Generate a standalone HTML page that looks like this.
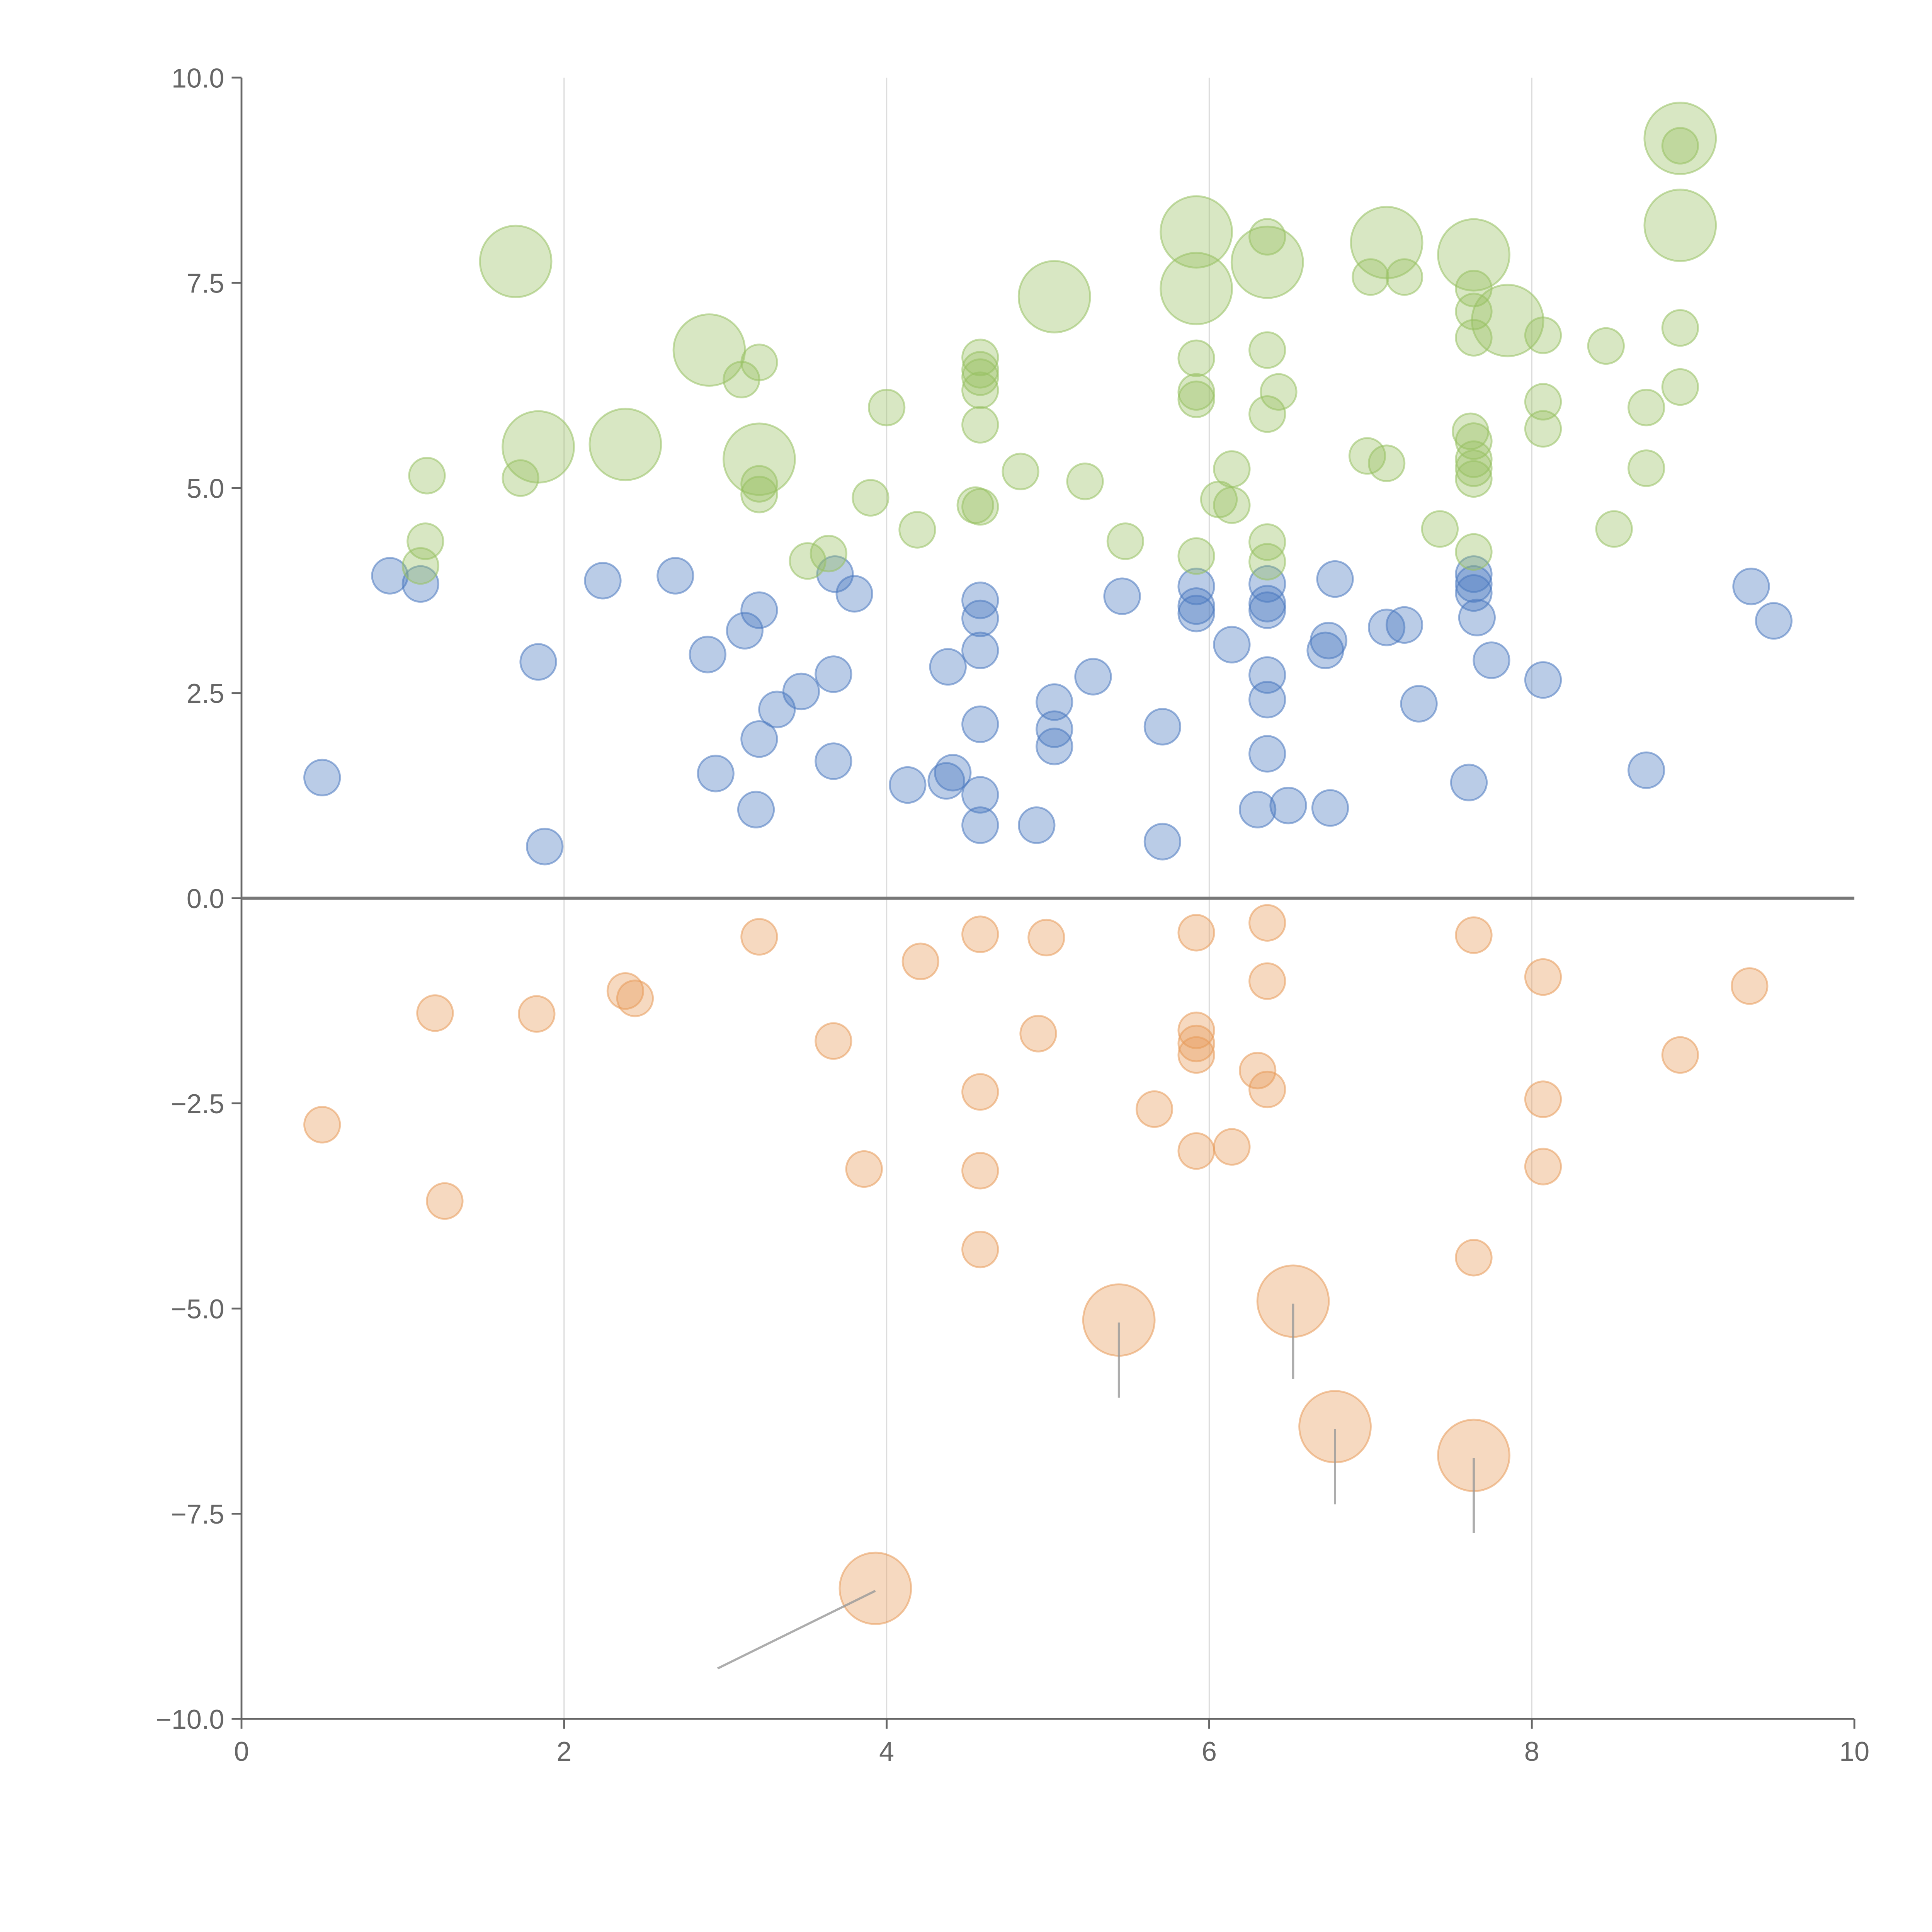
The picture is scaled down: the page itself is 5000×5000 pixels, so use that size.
<!DOCTYPE html>
<html>
<head>
<meta charset="utf-8">
<style>
html,body{margin:0;padding:0;background:#fff;}
svg{display:block;font-family:"Liberation Sans",sans-serif;}
</style>
</head>
<body>
<svg id="chart" width="5000" height="5000" viewBox="0 0 1568 1568" xmlns="http://www.w3.org/2000/svg">
<g id="grid"></g>
<g id="axes"></g>
<g id="marks"></g>
</svg>
<script>
const xTicks = [0, 2, 4, 6, 8, 10];
const xTickLabels = ["0", "2", "4", "6", "8", "10"];
const yTicks = [10, 7.5, 5, 2.5, 0, -2.5, -5, -7.5, -10];
const yTickLabels = ["10.0", "7.5", "5.0", "2.5", "0.0", "\u22122.5", "\u22125.0", "\u22127.5", "\u221210.0"];

const blueX = [0.5,0.92,1.11,1.84,1.88,2.24,2.69,2.89,2.94,3.12,3.21,3.21,3.19,3.32,3.47,3.67,3.67,3.68,3.80,4.13,4.38,4.37,4.41,4.58,4.58,4.58,4.58,4.58,4.58,4.93,5.04,5.04,5.04,5.28,5.46,5.71,5.71,5.92,5.92,5.92,6.14,6.30,6.49,6.36,6.36,6.36,6.36,6.36,6.36,6.72,6.74,6.78,6.75,7.10,7.21,7.30,7.61,7.64,7.64,7.64,7.66,7.75,8.07,8.71,9.36,9.50];
const blueY = [1.47,3.93,3.83,2.88,0.63,3.87,3.93,2.97,1.52,3.26,3.51,1.94,1.08,2.30,2.52,2.73,1.67,3.95,3.71,1.38,2.82,1.43,1.53,3.63,3.41,3.02,2.12,1.26,0.89,0.89,2.39,2.06,1.85,2.70,3.68,2.09,0.69,3.80,3.56,3.47,3.09,1.08,1.13,3.83,3.59,3.51,2.72,2.42,1.76,3.02,3.14,3.89,1.10,3.30,3.33,2.37,1.41,3.95,3.83,3.72,3.42,2.90,2.66,1.56,3.80,3.38];

const orangeX = [0.5,1.20,1.26,1.83,2.38,2.44,3.21,3.67,3.86,4.21,4.58,4.58,4.58,4.58,4.99,4.94,5.66,5.92,5.92,5.92,5.92,5.92,6.14,6.30,6.36,6.36,6.36,7.64,7.64,8.07,8.07,8.07,8.92,9.35,5.44,6.52,6.78,7.64,3.93];
const orangeY = [-2.76,-1.40,-3.69,-1.41,-1.13,-1.22,-0.47,-1.74,-3.30,-0.77,-0.44,-2.36,-3.32,-4.28,-0.48,-1.65,-2.57,-0.42,-1.61,-1.77,-1.91,-3.08,-3.03,-2.10,-0.30,-1.01,-2.33,-0.45,-4.38,-0.96,-2.45,-3.27,-1.91,-1.07,-5.14,-4.91,-6.44,-6.79,-8.41];
const orangeSize = [1,1,1,1,1,1,1,1,1,1,1,1,1,1,1,1,1,1,1,1,1,1,1,1,1,1,1,1,1,1,1,1,1,1,2,2,2,2,2];

const greenX = [1.15,1.14,1.11,1.73,3.10,3.21,3.21,3.21,3.51,3.64,3.90,4.00,4.19,4.55,4.58,4.58,4.58,4.58,4.58,4.58,4.83,5.23,5.48,5.92,5.92,5.92,5.92,6.06,6.14,6.14,6.36,6.36,6.36,6.36,6.36,6.43,7.00,7.21,6.98,7.10,7.43,7.62,7.64,7.64,7.64,7.64,7.64,7.64,7.64,7.64,8.07,8.07,8.07,8.46,8.51,8.71,8.71,8.92,8.92,8.92,1.70,1.84,2.38,2.90,3.21,5.04,5.92,5.92,6.36,7.10,7.64,7.85,8.92,8.92];
const greenY = [5.15,4.35,4.05,5.12,6.32,6.53,5.05,4.92,4.11,4.20,4.88,5.98,4.49,4.79,6.59,6.44,6.35,6.19,5.77,4.77,5.20,5.08,4.35,6.58,6.17,6.08,4.17,4.86,5.23,4.79,8.06,6.68,5.90,4.34,4.10,6.17,7.57,7.57,5.39,5.30,4.50,5.69,7.43,7.15,6.83,5.57,5.35,5.24,5.11,4.22,6.86,6.05,5.72,6.73,4.50,5.98,5.24,6.95,6.23,9.17,7.76,5.50,5.53,6.68,5.35,7.33,8.12,7.43,7.75,7.99,7.84,7.04,9.26,8.20];
const greenSize = greenX.map((_, i) => i < 60 ? 1 : 2);
const blueSize = blueX.map(() => 1);

const NS = "http://www.w3.org/2000/svg";
const X0 = 196, X1 = 1505, Y0 = 1395, Y1 = 63;
function sx(v){ return X0 + (v - 0) / 10 * (X1 - X0); }
function sy(v){ return Y0 - (v + 10) / 20 * (Y0 - Y1); }
function rad(s){ return s === 2 ? 29 : 14.5; }
function mk(tag, attrs, parent){
  const e = document.createElementNS(NS, tag);
  for (const k in attrs) e.setAttribute(k, attrs[k]);
  parent.appendChild(e);
  return e;
}
const grid = document.getElementById('grid');
const axes = document.getElementById('axes');
const marks = document.getElementById('marks');

xTicks.forEach((t, i) => {
  if (t > 0 && t < 10) {
    const g = mk('line', {x1: sx(t), x2: sx(t), y1: Y1, y2: Y0, stroke: '#dddddd', 'stroke-width': 1}, grid);
    
    
  }
  const tk = mk('line', {x1: sx(t), x2: sx(t), y1: Y0, y2: Y0 + 8, stroke: '#666', 'stroke-width': 1.5}, axes);
  
  
  const lb = mk('text', {x: sx(t), y: Y0 + 34, 'text-anchor': 'middle', 'font-size': 22, fill: '#666'}, axes);
  lb.textContent = xTickLabels[i];
  
  
});
yTicks.forEach((t, i) => {
  const tk = mk('line', {x1: X0 - 8, x2: X0, y1: sy(t), y2: sy(t), stroke: '#666', 'stroke-width': 1.5}, axes);
  
  
  const lb = mk('text', {x: X0 - 14, y: sy(t) + 8, 'text-anchor': 'end', 'font-size': 22, fill: '#666'}, axes);
  lb.textContent = yTickLabels[i];
  
  
});
const yAxis = mk('line', {x1: X0, x2: X0, y1: Y1, y2: Y0, stroke: '#666', 'stroke-width': 1.5}, axes);


const xAxis = mk('line', {x1: X0, x2: X1, y1: Y0, y2: Y0, stroke: '#666', 'stroke-width': 1.5}, axes);


const zero = mk('line', {x1: X0, x2: X1, y1: sy(0), y2: sy(0), stroke: '#777', 'stroke-width': 2.5}, axes);



function series(xs, ys, ss, color, name){
  const g = mk('g', {}, marks);
  
  
  xs.forEach((x, i) => {
    const c = mk('circle', {cx: sx(x), cy: sy(ys[i]), r: rad(ss[i]), fill: color, 'fill-opacity': 0.38, stroke: color, 'stroke-opacity': 0.55, 'stroke-width': 1.5}, g);
    
    
  });
}
series(blueX, blueY, blueSize, '#4a78c0', 'blue');
series(greenX, greenY, greenSize, '#98c162', 'green');
series(orangeX, orangeY, orangeSize, '#e89a5a', 'orange');

orangeX.forEach((x, i) => {
  if (orangeSize[i] !== 2) return;
  const px = sx(x), py = sy(orangeY[i]);
  let x2 = px, y2 = py + 63;
  if (orangeY[i] < -8) { x2 = px - 128; y2 = py + 65; }
  const l = mk('line', {x1: px, y1: py + 2, x2: x2, y2: y2, stroke: '#999', 'stroke-opacity': 0.8, 'stroke-width': 1.8}, marks);
  
  
});
</script>
</body>
</html>
